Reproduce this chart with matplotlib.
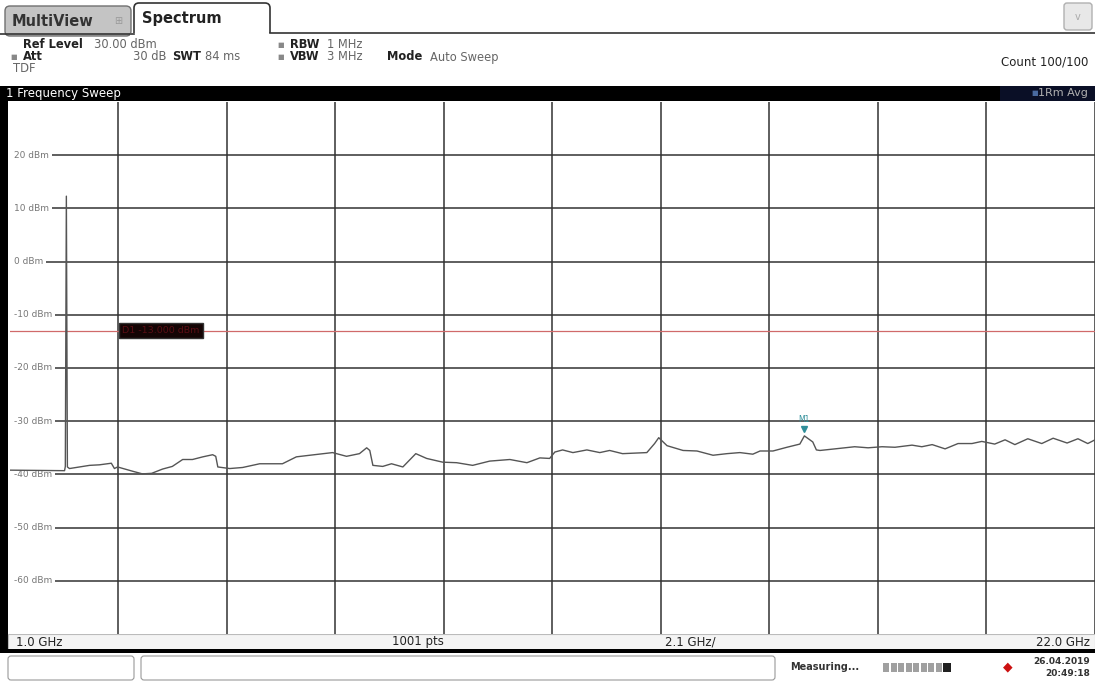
import matplotlib.pyplot as plt
from matplotlib.patches import Rectangle, FancyBboxPatch
from matplotlib.transforms import blended_transform_factory

# trace (GHz, dBm)
freq_ghz = [1.00, 2.065, 2.08, 2.10, 2.12, 2.16, 2.55, 2.74, 2.97, 3.03, 3.09, 3.38, 3.57, 3.75,
            3.96, 4.15, 4.35, 4.54, 4.74, 4.93, 4.99, 5.03, 5.26, 5.51, 5.84, 6.28, 6.55, 6.81,
            7.25, 7.52, 7.77, 7.91, 7.97, 8.03, 8.22, 8.39, 8.61, 8.86, 9.07, 9.38, 9.65, 9.96,
            10.29, 10.68, 11.01, 11.26, 11.45, 11.55, 11.70, 11.90, 12.17, 12.42, 12.61, 12.86,
            13.33, 13.48, 13.56, 13.72, 14.03, 14.30, 14.61, 14.88, 15.13, 15.38, 15.52, 15.77,
            16.04, 16.29, 16.378, 16.54, 16.61, 16.68, 16.97, 17.35, 17.61, 17.88, 18.13, 18.46,
            18.65, 18.85, 19.10, 19.35, 19.62, 19.81, 20.06, 20.26, 20.45, 20.70, 20.97, 21.19,
            21.46, 21.67, 21.86, 22.0]
level_dbm = [-39.2, -39.3, -38.5, 12.3, -38.6, -38.9, -38.3, -38.2, -37.9, -38.9, -38.6, -39.4,
             -39.9, -39.8, -39.0, -38.5, -37.2, -37.2, -36.7, -36.3, -36.6, -38.6, -38.9, -38.7,
             -38.0, -38.0, -36.7, -36.4, -35.9, -36.6, -36.1, -35.0, -35.5, -38.3, -38.5, -38.0,
             -38.6, -36.1, -37.0, -37.7, -37.8, -38.3, -37.5, -37.2, -37.8, -36.9, -37.0, -35.8,
             -35.4, -35.9, -35.4, -35.9, -35.5, -36.1, -35.9, -34.2, -33.1, -34.6, -35.5, -35.6,
             -36.4, -36.1, -35.9, -36.2, -35.6, -35.6, -34.9, -34.3, -32.76, -33.9, -35.4, -35.5,
             -35.2, -34.8, -35.0, -34.8, -34.9, -34.5, -34.8, -34.4, -35.2, -34.2, -34.2, -33.8,
             -34.3, -33.5, -34.4, -33.3, -34.2, -33.2, -34.1, -33.3, -34.2, -33.5]

y_ticks = [20, 10, 0, -10, -20, -30, -40, -50, -60]
y_labels = ["20 dBm", "10 dBm", "0 dBm", "-10 dBm", "-20 dBm", "-30 dBm", "-40 dBm", "-50 dBm", "-60 dBm"]
f_start, f_stop, f_div = 1.0, 22.0, 2.1
ref_level, y_bottom = 30.0, -70.0
d1_level = -13.0
m1_freq, m1_level = 16.378, -32.76

W, H = 1095, 682
TEAL = "#2f8f9a"

fig = plt.figure(figsize=(W / 100, H / 100), dpi=100)
fig.patch.set_facecolor("white")

# chrome layer in pixel coordinates
ui = fig.add_axes([0, 0, 1, 1])
ui.set_xlim(0, W)
ui.set_ylim(H, 0)
ui.axis("off")

# tabs
ui.add_patch(FancyBboxPatch((5, 6), 126, 30, boxstyle="round,pad=0,rounding_size=5",
                            fc="#c4c4c4", ec="#707070", lw=1))
ui.text(12, 21, "MultiView", fontsize=10.5, fontweight="bold", color="#333333", va="center")
ui.text(114, 21, "⊞", fontsize=7, color="#999999", va="center")
ui.add_patch(FancyBboxPatch((134, 3), 136, 40, boxstyle="round,pad=0,rounding_size=5",
                            fc="white", ec="#333333", lw=1.2))
ui.add_patch(Rectangle((130, 33), 145, 12, fc="white", ec="none"))
ui.plot([0, 134], [34, 34], color="#333333", lw=1.2)
ui.plot([270, W], [33, 33], color="#333333", lw=1.2)
ui.text(142, 19, "Spectrum", fontsize=10.5, fontweight="bold", color="#222222", va="center")
ui.add_patch(FancyBboxPatch((1064, 3), 28, 27, boxstyle="round,pad=0,rounding_size=3",
                            fc="#e8e8e8", ec="#b0b0b0", lw=1))
ui.text(1078, 17, "v", fontsize=7, color="#aaaaaa", ha="center", va="center")

# setting lines
info = dict(fontsize=8.3, color="#666666", va="center")
bold = dict(fontsize=8.3, color="#222222", va="center", fontweight="bold")
ui.text(23, 45, "Ref Level", **bold)
ui.text(94, 45, "30.00 dBm", **info)
ui.text(10, 57, "■", fontsize=5, color="#888888", va="center")
ui.text(23, 57, "Att", **bold)
ui.text(133, 57, "30 dB", **info)
ui.text(172, 57, "SWT", **bold)
ui.text(205, 57, "84 ms", **info)
ui.text(277, 45, "■", fontsize=5, color="#888888", va="center")
ui.text(290, 45, "RBW", **bold)
ui.text(327, 45, "1 MHz", **info)
ui.text(277, 57, "■", fontsize=5, color="#888888", va="center")
ui.text(290, 57, "VBW", **bold)
ui.text(327, 57, "3 MHz", **info)
ui.text(387, 57, "Mode", **bold)
ui.text(430, 57, "Auto Sweep", **info)
ui.text(13, 69, "TDF", **info)
ui.text(1088, 62, "Count 100/100", fontsize=8.5, color="#222222", ha="right", va="center")

# title bar
ui.add_patch(Rectangle((0, 86), W, 15, fc="black", ec="none"))
ui.add_patch(Rectangle((1000, 86), 95, 15, fc="#0a0f26", ec="none"))
ui.text(6, 93.5, "1 Frequency Sweep", fontsize=8.5, color="white", va="center")
ui.text(1088, 93.5, "1Rm Avg", fontsize=8, color="#b0b0b0", ha="right", va="center")
ui.text(1038, 93.5, "■", fontsize=5, color="#4a6aa0", ha="right", va="center")

# frame
ui.add_patch(Rectangle((0, 86), 8, 567, fc="black", ec="none"))
ui.add_patch(Rectangle((8, 634), W - 8, 16, fc="#f4f4f4", ec="#bbbbbb", lw=0.8))
ui.add_patch(Rectangle((0, 649), W, 4, fc="black", ec="none"))
ui.text(16, 642, "1.0 GHz", fontsize=8.5, color="#222222", va="center")
ui.text(418, 642, "1001 pts", fontsize=8.5, color="#222222", ha="center", va="center")
ui.text(690, 642, "2.1 GHz/", fontsize=8.5, color="#222222", ha="center", va="center")
ui.text(1090, 642, "22.0 GHz", fontsize=8.5, color="#222222", ha="right", va="center")

# status bar
ui.add_patch(FancyBboxPatch((8, 656), 126, 24, boxstyle="round,pad=0,rounding_size=3",
                            fc="white", ec="#9a9a9a", lw=0.8))
ui.add_patch(FancyBboxPatch((141, 656), 634, 24, boxstyle="round,pad=0,rounding_size=3",
                            fc="white", ec="#9a9a9a", lw=0.8))
ui.text(790, 667, "Measuring...", fontsize=7, color="#333333", va="center", fontweight="bold")
for i in range(8):
    ui.add_patch(Rectangle((883 + i * 7.5, 663), 6, 9, fc="#a0a0a0", ec="none"))
ui.add_patch(Rectangle((943, 663), 8, 9, fc="#202020", ec="none"))
ui.text(1008, 667, "◆", fontsize=9, color="#cc1111", ha="center", va="center")
ui.text(1090, 661, "26.04.2019", fontsize=6.5, color="#333333", ha="right", va="center",
        fontweight="bold")
ui.text(1090, 673, "20:49:18", fontsize=6.5, color="#333333", ha="right", va="center",
        fontweight="bold")

# measurement diagram
ax = fig.add_axes([9.5 / W, 1 - 634 / H, (W - 9.5) / W, 532 / H])
ax.set_xlim(f_start, f_stop)
ax.set_ylim(y_bottom, ref_level)
ax.set_xticks([f_start + i * f_div for i in range(1, 11)])
ax.set_yticks(y_ticks)
ax.tick_params(length=0, labelbottom=False, labelleft=False)
ax.grid(True, color="#333333", lw=1.1)
for s in ax.spines.values():
    s.set_visible(False)
ax.set_facecolor("white")

# blank strip so the level lines start at the labels
ax.add_patch(Rectangle((0, 0), 0.005, 1, transform=ax.transAxes, fc="white", ec="none", zorder=2.5))

lab_tr = blended_transform_factory(ax.transAxes, ax.transData)
for v, lab in zip(y_ticks, y_labels):
    ax.text(0.004, v, lab, transform=lab_tr, fontsize=6.5, color="#777777", va="center",
            bbox=dict(fc="white", ec="none", pad=2.0), zorder=3)

ax.axhline(d1_level, color="#d06a6a", lw=0.9, zorder=3.5)
ax.text(f_start + f_div + 0.08, d1_level, "D1 -13.000 dBm", fontsize=6.8, color="#5a0d14",
        va="center", zorder=4, bbox=dict(fc="#140404", ec="#333333", pad=2.2))

ax.plot(freq_ghz, level_dbm, color="#555555", lw=1.0, zorder=5)

ax.plot([m1_freq], [m1_level + 1.2], marker="v", color=TEAL, ms=5, zorder=6)
ax.text(m1_freq, m1_level + 2.2, "M1", fontsize=5.5, color=TEAL, ha="center", va="bottom", zorder=6)

ui.set_zorder(0)
ax.set_zorder(1)

ui2 = fig.add_axes([0, 0, 1, 1])
ui2.set_xlim(0, W)
ui2.set_ylim(H, 0)
ui2.axis("off")
ui2.text(963, 122, "M1[1]", fontsize=7.5, color=TEAL, ha="right", va="center")
ui2.text(1090, 122, "-32.76 dBm", fontsize=7.5, color=TEAL, ha="right", va="center")
ui2.text(1090, 140, "16.3780 GHz", fontsize=7.5, color=TEAL, ha="right", va="center")

fig.savefig("out.png", dpi=100)
